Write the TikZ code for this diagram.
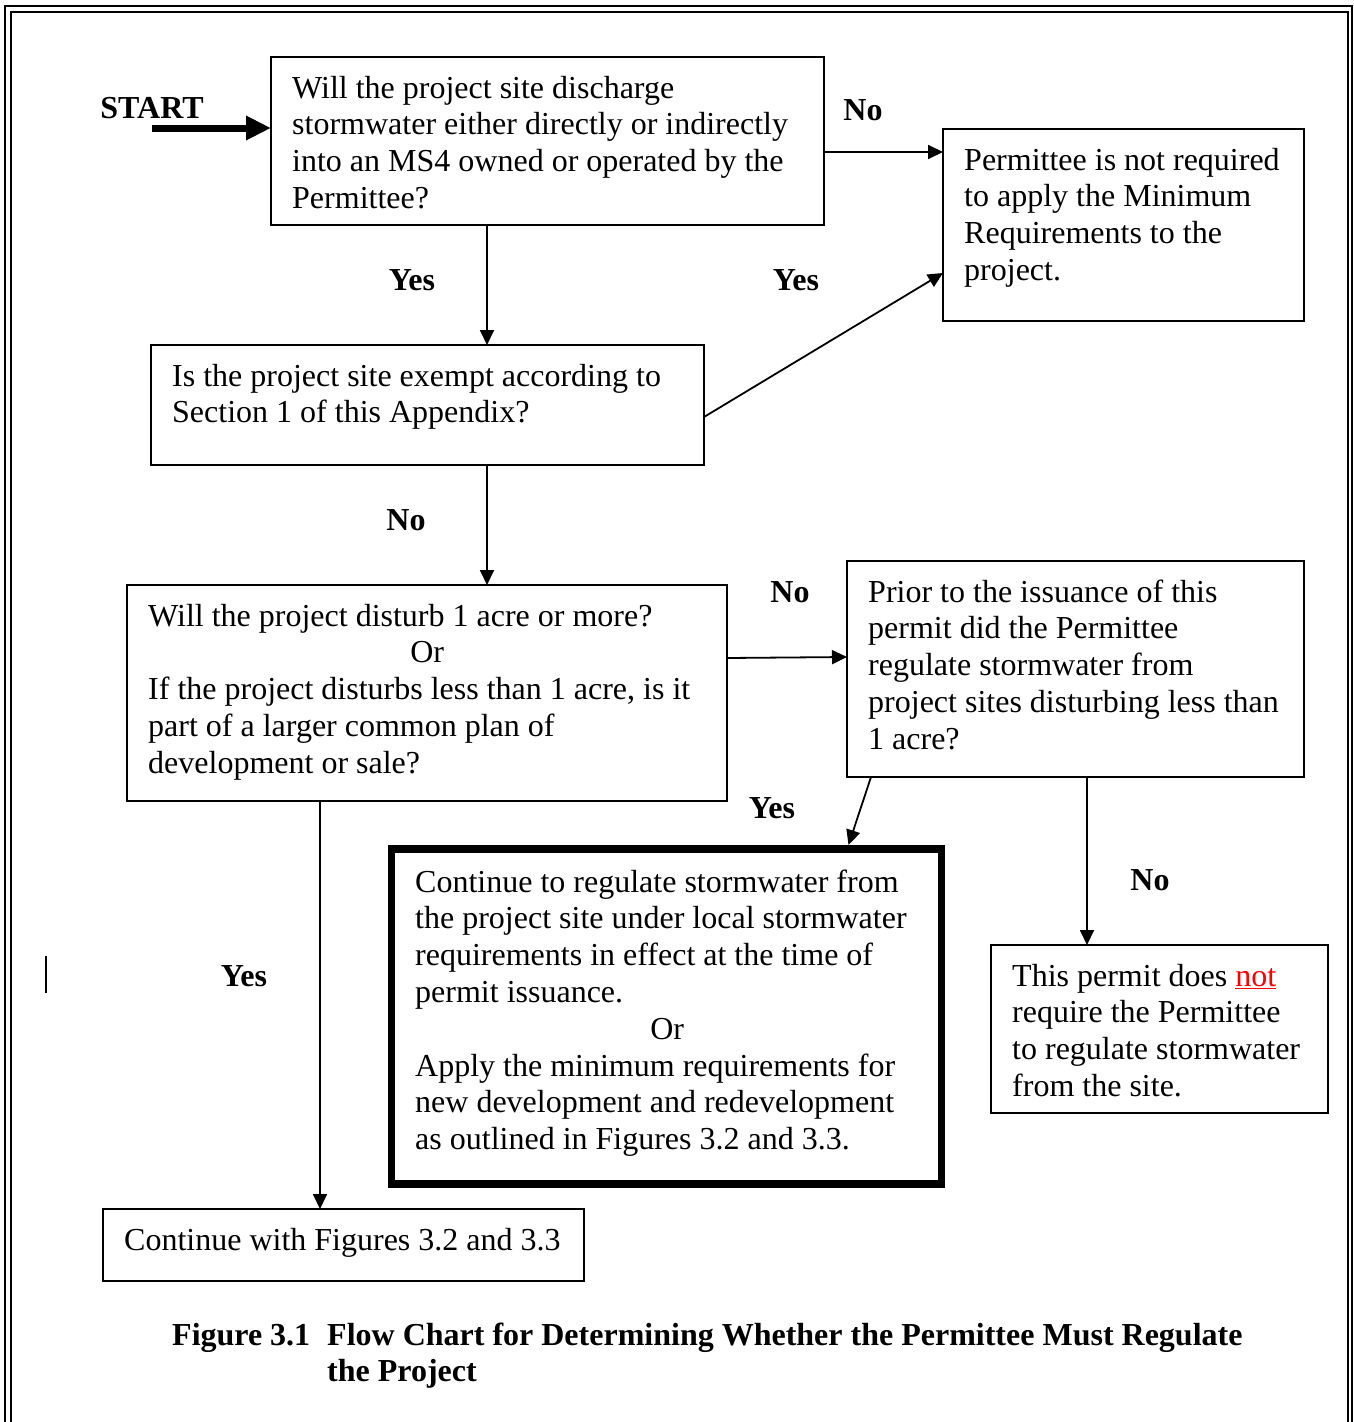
\documentclass[tikz,border=0pt]{standalone}
\usepackage{fontspec}
\setmainfont{Liberation Serif}
\usetikzlibrary{arrows.meta,calc}
\newcommand{\boxtext}[2]{\parbox[t]{#1}{\raggedright #2}}
\begin{document}
\begin{tikzpicture}[x=1pt,y=-1pt,
  box/.style={draw, line width=1.8pt, rectangle, inner sep=0pt, outer sep=0pt, anchor=north west},
  thickbox/.style={draw, line width=7.5pt, rectangle, inner sep=0pt, outer sep=0pt, anchor=north west},
  txt/.style={anchor=base west, inner sep=0pt, font=\fontsize{32}{36.8}\selectfont},
  lbl/.style={inner sep=0pt, font=\bfseries\fontsize{32}{36.8}\selectfont},
  conn/.style={line width=1.8pt, -{Triangle[length=15pt,width=14pt]}},
  startarrow/.style={line width=7pt, -{Triangle[length=25pt,width=23pt]}}]
\useasboundingbox (0,0) rectangle (1354,1422);
% page border (double)
\draw[line width=2pt] (4.5,1422) -- (4.5,6) -- (1351.5,6) -- (1351.5,1422);
\draw[line width=2pt] (10.5,1422) -- (10.5,12) -- (1347.5,12) -- (1347.5,1422);
% stray mark
\draw[line width=2pt] (46,956) -- (46,993);

% boxes
\node[box, minimum width=553pt, minimum height=168pt] (A) at (271,57) {};
\node[box, minimum width=361pt, minimum height=192pt] (B) at (943,129) {};
\node[box, minimum width=553pt, minimum height=120pt] (C) at (151,345) {};
\node[box, minimum width=600pt, minimum height=216pt] (D) at (127,585) {};
\node[box, minimum width=457pt, minimum height=216pt] (E) at (847,561) {};
\node[thickbox, minimum width=550pt, minimum height=335pt] (F) at (391.5,849) {};
\node[box, minimum width=337pt, minimum height=168pt] (G) at (991,945) {};
\node[box, minimum width=481pt, minimum height=72pt] (H) at (103,1209) {};

% texts
\node[txt] (tA) at (292,98) {\boxtext{520pt}{Will the project site discharge\\stormwater either directly or indirectly\\into an MS4 owned or operated by the\\Permittee?}};
\node[txt] (tB) at (964,170) {\boxtext{330pt}{Permittee is not required\\to apply the Minimum\\Requirements to the\\project.}};
\node[txt] (tC) at (172,386) {\boxtext{520pt}{Is the project site exempt according to\\Section 1 of this Appendix?}};
\node[txt] (tD) at (148,626) {\boxtext{558pt}{Will the project disturb 1 acre or more?\\\makebox[\linewidth]{Or}\\If the project disturbs less than 1 acre, is it\\part of a larger common plan of\\development or sale?}};
\node[txt] (tE) at (868,602) {\boxtext{420pt}{Prior to the issuance of this\\permit did the Permittee\\regulate stormwater from\\project sites disturbing less than\\1 acre?}};
\node[txt] (tF) at (415,892) {\boxtext{504pt}{Continue to regulate stormwater from\\the project site under local stormwater\\requirements in effect at the time of\\permit issuance.\\\makebox[\linewidth]{Or}\\Apply the minimum requirements for\\new development and redevelopment\\as outlined in Figures 3.2 and 3.3.}};
\node[txt] (tG) at (1012,986) {\boxtext{310pt}{This permit does \textcolor{red}{\underline{not}}\\require the Permittee\\to regulate stormwater\\from the site.}};
\node[txt] (tH) at (124,1250) {Continue with Figures 3.2 and 3.3};

% start
\node[lbl] (start) at (152,108) {START};
\coordinate (st) at (152,128);
\draw[startarrow] (st) -- ($(A.north west)+(0,71)$);

% connectors
\draw[conn] ($(A.north east)+(0,95)$) -- ($(B.north west)+(0,23)$);
\draw[conn] ($(A.south west)+(216,0)$) -- ($(C.north west)+(336,0)$);
\draw[conn] ($(C.north east)+(0,72)$) -- ($(B.north west)+(0,144)$);
\draw[conn] ($(C.south west)+(336,0)$) -- ($(D.north west)+(360,0)$);
\draw[conn] ($(D.north east)+(0,73)$) -- ($(E.north west)+(0,96)$);
\draw[conn] ($(E.south west)+(24,0)$) -- ($(F.north west)+(457,-4)$);
\draw[conn] ($(E.south west)+(240,0)$) -- ($(G.north west)+(96,0)$);
\draw[conn] ($(D.south west)+(193,0)$) -- ($(H.north west)+(217,0)$);

% labels
\node[lbl] (l1) at (863,110) {No};
\node[lbl] (l2) at (412,280) {Yes};
\node[lbl] (l3) at (796,280) {Yes};
\node[lbl] (l4) at (406,520) {No};
\node[lbl] (l5) at (790,592) {No};
\node[lbl] (l6) at (772,808) {Yes};
\node[lbl] (l7) at (1150,880) {No};
\node[lbl] (l8) at (244,976) {Yes};

% caption
\node[anchor=base west, inner sep=0pt, font=\bfseries\fontsize{32}{36.8}\selectfont] (cap) at (172,1345)
  {\parbox[t]{1150pt}{\raggedright\makebox[155pt][l]{Figure 3.1}Flow Chart for Determining Whether the Permittee Must Regulate\\\hspace*{155pt}the Project}};
\end{tikzpicture}
\end{document}
